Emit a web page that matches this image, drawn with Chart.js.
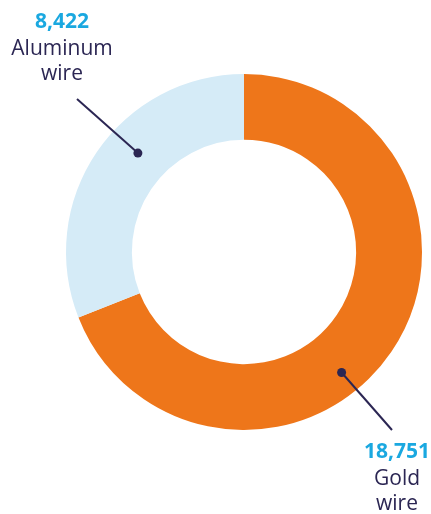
<!DOCTYPE html>
<html>
<head>
<meta charset="utf-8">
<script src="https://cdn.jsdelivr.net/npm/chart.js@4"></script>
<style>
  html, body { margin: 0; padding: 0; background: #fff; }
  #wrap { width: 431px; height: 514px; position: relative; }
</style>
</head>
<body>
<div id="wrap"><canvas id="chart"></canvas></div>
<script>
const categories = ["Gold wire", "Aluminum wire"];
const values = [18751, 8422];
const valueLabels = ["18,751", "8,422"];
const nameLines = [["Gold", "wire"], ["Aluminum", "wire"]];
const colors = ["#ee761a", "#d5ebf7"];

const NAVY = "#2b2653";
const CYAN = "#1aa8e0";

// callout: dot angle (deg clockwise from top), dot radius shift, line end and text block, relative to centre
const callouts = [
    { angle: 141, shift: 10, lineEnd: [148, 178], text: [153, 200] },
    { angle: -47, shift: 0, lineEnd: [-167, -153], text: [-182, -230] }
];

const calloutPlugin = {
    id: "callouts",
    afterDraw(chart) {
        const ctx = chart.ctx;
        const meta = chart.getDatasetMeta(0);
        meta.data.forEach(function (arc, i) {
            const c = callouts[i];
            const rMid = (arc.innerRadius + arc.outerRadius) / 2 + c.shift;
            const a = (c.angle - 90) * Math.PI / 180;
            const dx = arc.x + Math.cos(a) * rMid;
            const dy = arc.y + Math.sin(a) * rMid;

            ctx.save();
            ctx.strokeStyle = NAVY;
            ctx.lineWidth = 2;
            ctx.beginPath();
            ctx.moveTo(dx, dy);
            ctx.lineTo(arc.x + c.lineEnd[0], arc.y + c.lineEnd[1]);
            ctx.stroke();
            ctx.fillStyle = NAVY;
            ctx.beginPath();
            ctx.arc(dx, dy, 4.5, 0, Math.PI * 2);
            ctx.fill();

            const tx = arc.x + c.text[0];
            let ty = arc.y + c.text[1];
            ctx.textAlign = "center";
            ctx.textBaseline = "middle";
            ctx.fillStyle = CYAN;
            ctx.font = "bold 21px 'Open Sans', sans-serif";
            ctx.fillText(valueLabels[i], tx, ty);
            ctx.fillStyle = NAVY;
            ctx.font = "21px 'Open Sans', sans-serif";
            nameLines[i].forEach(function (line, k) {
                ctx.fillText(line, tx, ty + 27 + k * 25);
            });
            ctx.restore();
        });
    }
};

new Chart(document.getElementById("chart"), {
    type: "doughnut",
    data: {
        labels: categories,
        datasets: [{
            data: values,
            backgroundColor: colors,
            borderWidth: 0,
            hoverOffset: 0
        }]
    },
    options: {
        responsive: true,
        maintainAspectRatio: false,
        animation: false,
        cutout: "63%",
        layout: { padding: { left: 66, right: 9, top: 74, bottom: 84 } },
        plugins: {
            legend: { display: false },
            tooltip: { enabled: false }
        }
    },
    plugins: [calloutPlugin]
});
</script>
</body>
</html>
